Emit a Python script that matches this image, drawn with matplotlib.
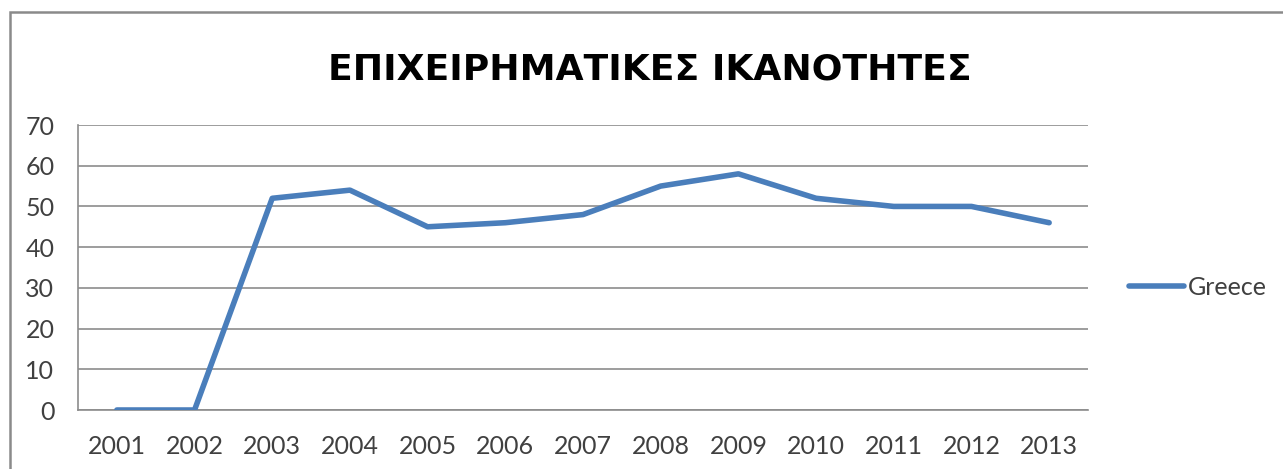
import matplotlib
matplotlib.use("Agg")
import matplotlib.pyplot as plt
from matplotlib.patches import Rectangle

# Data
years = ["2001", "2002", "2003", "2004", "2005", "2006", "2007",
         "2008", "2009", "2010", "2011", "2012", "2013"]
greece = [0, 0, 52, 54, 45, 46, 48, 55, 58, 52, 50, 50, 46]
y_ticks = [0, 10, 20, 30, 40, 50, 60, 70]
title = "ΕΠΙΧΕΙΡΗΜΑΤΙΚΕΣ ΙΚΑΝΟΤΗΤΕΣ"
series_name = "Greece"

LINE_BLUE = "#4A7EBB"
TEXT_GRAY = "#404040"
GRID_GRAY = "#8C8C8C"

plt.rcParams["font.family"] = ["Lato", "DejaVu Sans"]

fig = plt.figure(figsize=(12.83, 4.69), dpi=100)
fig.patch.set_facecolor("white")

# Chart frame
fig.add_artist(Rectangle((10 / 1283, -0.2), 1.2, 1.2 - 12 / 469,
                         transform=fig.transFigure, fill=False,
                         edgecolor="#8A8A8A", linewidth=1.8, clip_on=False))

ax = fig.add_axes([78 / 1283, 1 - 410 / 469, (1088 - 78) / 1283, (410 - 125) / 469])

x = list(range(len(years)))
ax.plot(x, greece, color=LINE_BLUE, linewidth=4.0, solid_joinstyle="round",
        solid_capstyle="round", label=series_name, zorder=3)

ax.set_xlim(-0.5, len(years) - 0.5)
ax.set_ylim(0, 70)
ax.set_yticks(y_ticks)
ax.set_xticks(x)
ax.set_xticklabels(years)

ax.grid(axis="y", color=GRID_GRAY, linewidth=1.2)
ax.set_axisbelow(True)
for side in ["top", "right"]:
    ax.spines[side].set_visible(False)
ax.spines["left"].set_color(GRID_GRAY)
ax.spines["left"].set_linewidth(1.2)
ax.spines["bottom"].set_color(GRID_GRAY)
ax.spines["bottom"].set_linewidth(1.2)

ax.tick_params(axis="both", length=0, labelsize=18, labelcolor=TEXT_GRAY)
ax.tick_params(axis="y", pad=17)
ax.tick_params(axis="x", pad=18)

fig.text(650 / 1283, 1 - 69 / 469, title, ha="center", va="center",
         fontsize=26, fontweight="bold", color="black",
         family=["DejaVu Sans"])

leg = ax.legend(loc="center left", bbox_to_anchor=(1.018, 0.43), frameon=False,
                fontsize=18, handlelength=2.2, handletextpad=0.15,
                labelcolor=TEXT_GRAY)

fig.savefig("out.png", dpi=100)
